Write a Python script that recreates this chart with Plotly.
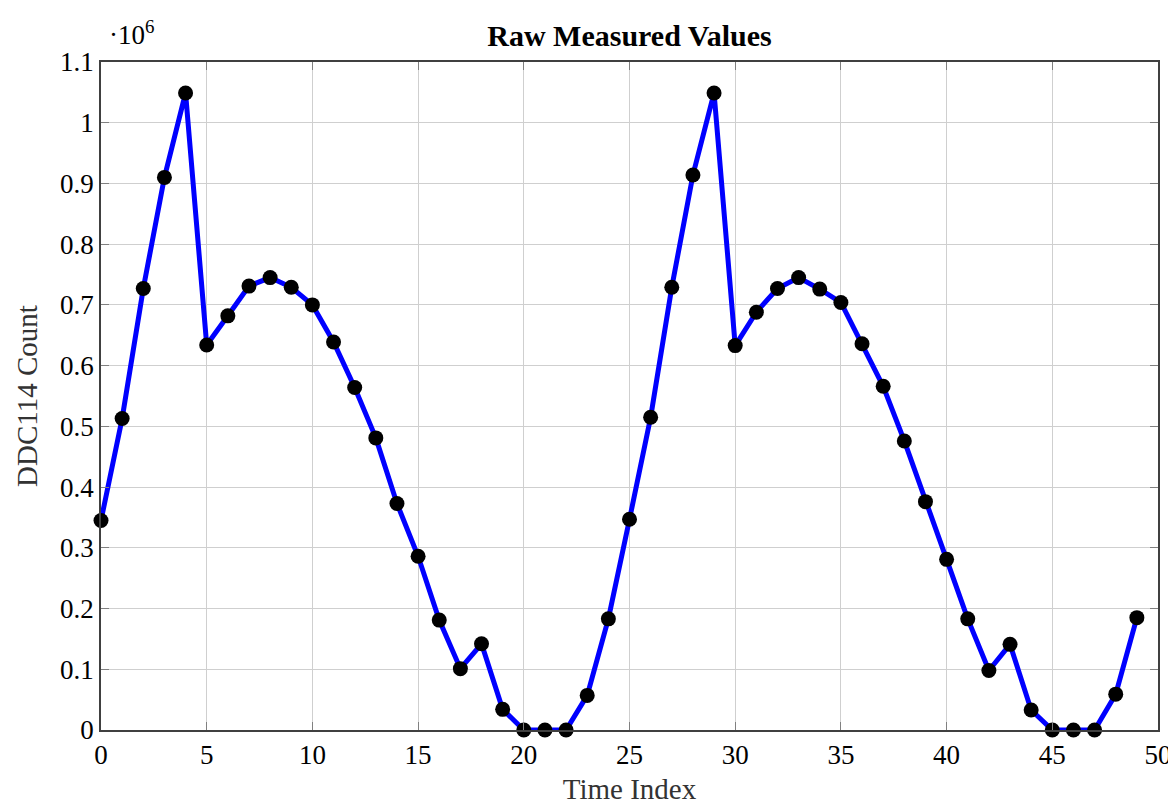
import plotly.graph_objects as go

time_index = list(range(50))
counts = [0.345, 0.513, 0.727, 0.910, 1.049, 0.634, 0.682, 0.731, 0.745, 0.729,
          0.700, 0.639, 0.564, 0.481, 0.373, 0.286, 0.181, 0.101, 0.142, 0.034,
          0.0, 0.0, 0.0, 0.057, 0.183, 0.347, 0.515, 0.729, 0.914, 1.049,
          0.633, 0.688, 0.727, 0.745, 0.726, 0.704, 0.636, 0.566, 0.476, 0.376,
          0.281, 0.183, 0.098, 0.141, 0.033, 0.0, 0.0, 0.0, 0.059, 0.185]
counts = [c * 1e6 for c in counts]
x_ticks = [0, 5, 10, 15, 20, 25, 30, 35, 40, 45, 50]
y_ticks = [i * 1e5 for i in range(12)]
y_tick_labels = ["0", "0.1", "0.2", "0.3", "0.4", "0.5", "0.6", "0.7", "0.8", "0.9", "1", "1.1"]

FONT = "Liberation Serif"
FS = 27

fig = go.Figure()
fig.add_trace(go.Scatter(
    x=time_index, y=counts, mode="lines+markers",
    line=dict(color="#0000ff", width=5),
    marker=dict(color="black", size=15, line=dict(width=0)),
    cliponaxis=False, showlegend=False,
))

axis_common = dict(
    showgrid=True, gridcolor="#cfcfcf", gridwidth=1,
    showline=True, linecolor="#404040", linewidth=1.5, mirror="ticks",
    ticks="inside", ticklen=8, tickcolor="#808080", tickwidth=1,
    zeroline=False, tickfont=dict(family=FONT, size=FS, color="black"),
)

fig.update_xaxes(range=[0, 50], tickvals=x_ticks,
                 title=dict(text="Time Index", font=dict(family=FONT, size=FS + 2, color="#333"), standoff=10),
                 **axis_common)
fig.update_yaxes(range=[0, 1.1e6], tickvals=y_ticks, ticktext=y_tick_labels,
                 title=dict(text="DDC114 Count", font=dict(family=FONT, size=FS + 2, color="#333"), standoff=14),
                 **axis_common)

fig.update_layout(
    width=1176, height=804,
    margin=dict(l=93, r=26, t=54, b=76),
    plot_bgcolor="white", paper_bgcolor="white",
    title=dict(text="<b>Raw Measured Values</b>", x=0.5, xanchor="center",
               xref="paper", y=1, yref="paper", yanchor="bottom", pad=dict(b=16),
               font=dict(family=FONT, size=FS + 3, color="black")),
    annotations=[dict(text="·10<sup>6</sup>", xref="paper", yref="paper",
                      x=0.0, y=1.0, xanchor="left", yanchor="bottom", yshift=10, xshift=6,
                      showarrow=False, font=dict(family=FONT, size=FS, color="black"))],
)

fig.write_html("out.html")
